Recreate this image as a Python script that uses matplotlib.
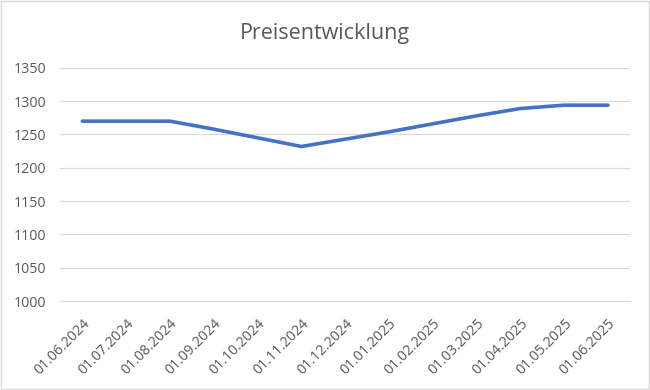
import matplotlib
matplotlib.use("Agg")
from matplotlib import pyplot as plt
from matplotlib.patches import Rectangle

# data
dates = ["01.06.2024", "01.07.2024", "01.08.2024", "01.09.2024", "01.10.2024",
         "01.11.2024", "01.12.2024", "01.01.2025", "01.02.2025", "01.03.2025",
         "01.04.2025", "01.05.2025", "01.06.2025"]
prices = [1270, 1270, 1270, 1258, 1245, 1232, 1243, 1254, 1266, 1278, 1289, 1294, 1294]
yticks = [1000, 1050, 1100, 1150, 1200, 1250, 1300, 1350]

plt.rcParams['font.family'] = ['Open Sans', 'DejaVu Sans']
grey = "#595959"

fig = plt.figure(figsize=(6.5, 3.9), dpi=100)
ax = fig.add_axes([0.093, 0.228, 0.876, 0.598])

x = list(range(len(dates)))
ax.plot(x, prices, color="#4472C4", linewidth=2.6, solid_capstyle="round", zorder=3)

ax.set_xlim(-0.5, len(dates) - 0.5)
ax.set_ylim(1000, 1350)
ax.set_yticks(yticks)
ax.set_xticks(x)
ax.set_xticklabels(dates, rotation=45, ha="right", rotation_mode="anchor")
ax.grid(axis="y", color="#D9D9D9", linewidth=0.9)
ax.set_axisbelow(True)
for s in ["top", "right", "left"]:
    ax.spines[s].set_visible(False)
ax.spines["bottom"].set_color("#D9D9D9")
ax.tick_params(axis="both", length=0, colors=grey, labelsize=10.3)
ax.tick_params(axis="y", pad=10)
ax.tick_params(axis="x", pad=11)

fig.text(0.5, 0.915, "Preisentwicklung", ha="center", va="center", fontsize=15.5, color=grey)
fig.patches.append(Rectangle((0.001, 0.002), 0.997, 0.995, transform=fig.transFigure,
                             fill=False, edgecolor="#D9D9D9", linewidth=1))

fig.savefig("out.png", dpi=100)
